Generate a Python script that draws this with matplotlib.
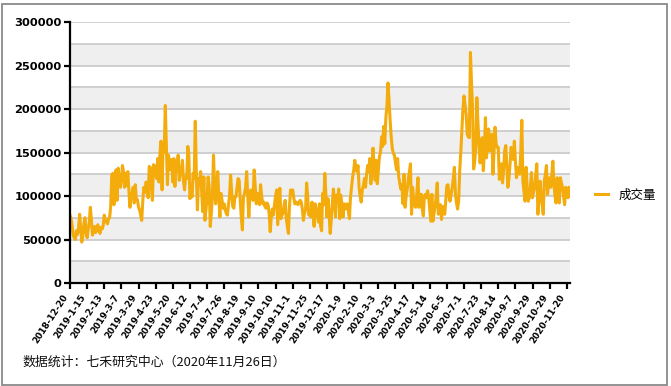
import matplotlib
matplotlib.use("Agg")
import matplotlib.pyplot as plt
from matplotlib.patches import Rectangle

plt.rcParams['font.family'] = ['Noto Sans CJK SC', 'DejaVu Sans']

# Tick labels (every 16 trading days)
tick_labels = ["2018-12-20", "2019-1-15", "2019-2-13", "2019-3-7", "2019-3-29", "2019-4-23",
               "2019-5-20", "2019-6-12", "2019-7-4", "2019-7-26", "2019-8-19", "2019-9-10",
               "2019-10-10", "2019-11-1", "2019-11-25", "2019-12-17", "2020-1-9", "2020-2-10",
               "2020-3-3", "2020-3-25", "2020-4-17", "2020-5-14", "2020-6-5", "2020-7-1",
               "2020-7-23", "2020-8-14", "2020-9-7", "2020-9-29", "2020-10-29", "2020-11-20"]
tick_step = 16

# Daily volume in thousands
volume_k = [
    78, 74, 66, 55, 52, 50, 60, 56, 63, 79, 62, 47, 55, 68, 75, 58,
    52, 62, 70, 87, 72, 55, 60, 65, 58, 63, 67, 60, 57, 64, 62, 66,
    78, 72, 70, 68, 74, 75, 88, 124, 126, 90, 99, 130, 95, 132, 120, 110,
    118, 135, 128, 110, 126, 112, 128, 106, 87, 100, 104, 110, 92, 113, 95, 96,
    87, 84, 78, 72, 95, 110, 104, 116, 112, 98, 134, 133, 110, 95, 136, 135,
    126, 120, 143, 116, 149, 163, 107, 161, 150, 204, 160, 113, 147, 138, 130, 142,
    116, 143, 111, 141, 128, 147, 118, 125, 130, 141, 117, 107, 122, 120, 157, 147,
    97, 105, 99, 126, 120, 186, 126, 84, 120, 112, 128, 105, 82, 122, 72, 85,
    97, 122, 110, 65, 80, 99, 147, 115, 91, 105, 128, 98, 76, 103, 95, 86,
    91, 84, 80, 78, 90, 100, 124, 105, 88, 86, 99, 99, 110, 120, 118, 95,
    75, 61, 99, 103, 110, 128, 100, 76, 99, 107, 102, 95, 130, 110, 91, 103,
    98, 90, 113, 100, 91, 93, 88, 86, 92, 90, 80, 59, 76, 85, 78, 90,
    100, 107, 67, 88, 109, 74, 78, 80, 90, 95, 75, 65, 57, 88, 107, 105,
    107, 98, 91, 93, 92, 90, 93, 95, 93, 85, 72, 80, 84, 115, 100, 78,
    82, 76, 93, 80, 65, 91, 85, 78, 70, 91, 66, 60, 103, 90, 126, 100,
    76, 97, 80, 57, 72, 91, 108, 95, 76, 101, 95, 108, 74, 101, 88, 76,
    91, 85, 90, 91, 82, 74, 99, 110, 122, 130, 141, 133, 128, 135, 110, 100,
    93, 107, 112, 120, 110, 125, 135, 128, 143, 114, 130, 155, 135, 118, 141, 114,
    130, 145, 150, 168, 157, 180, 160, 190, 203, 230, 210, 187, 168, 155, 149, 147,
    138, 130, 143, 122, 115, 108, 113, 91, 125, 87, 100, 108, 120, 128, 137, 79,
    110, 95, 88, 87, 105, 121, 87, 95, 102, 85, 77, 100, 102, 98, 106, 98,
    85, 71, 102, 71, 80, 88, 100, 115, 79, 85, 90, 73, 88, 84, 79, 95,
    112, 113, 100, 94, 102, 110, 120, 133, 102, 92, 85, 94, 129, 150, 175, 200,
    215, 205, 194, 171, 168, 167, 265, 230, 202, 131, 140, 156, 213, 185, 160, 138,
    150, 167, 129, 150, 190, 144, 160, 177, 152, 162, 171, 125, 150, 179, 160, 156,
    156, 119, 128, 137, 115, 130, 152, 158, 135, 110, 120, 137, 156, 148, 142, 163,
    140, 121, 133, 128, 125, 150, 187, 117, 105, 94, 133, 110, 94, 98, 110, 127,
    98, 105, 110, 125, 137, 79, 95, 117, 102, 90, 79, 117, 125, 135, 102, 115,
    121, 110, 125, 140, 113, 100, 92, 121, 105, 92, 121, 115, 110, 100, 90, 110,
    105, 98, 110, 100,
]
volume = [v * 1000 for v in volume_k]
series_name = "成交量"
yticks = [0, 50000, 100000, 150000, 200000, 250000, 300000]
footer = "数据统计：七禾研究中心（2020年11月26日）"

W, H = 671, 386
fig = plt.figure(figsize=(W / 100, H / 100), dpi=100)
fig.patch.set_facecolor('white')
ax = fig.add_axes([70 / W, 1 - 283 / H, 500 / W, 261 / H])
ax.set_facecolor('white')

n = len(volume)
ax.set_xlim(0, n - 1)
ax.set_ylim(0, 300000)

# alternating bands and grid lines every 25000
for i, lo in enumerate(range(0, 300000, 25000)):
    if i % 2 == 0:
        ax.axhspan(lo, lo + 25000, color='#efefef', zorder=0, lw=0)
for lv in range(25000, 300001, 25000):
    ax.axhline(lv, color='#c8c8c8', lw=1.2, zorder=1)

ax.plot(range(n), volume, color='#F4AB0C', lw=2.2, zorder=3, label=series_name,
        solid_joinstyle='round')

for s in ['top', 'right']:
    ax.spines[s].set_visible(False)
for s in ['left', 'bottom']:
    ax.spines[s].set_color('black')
    ax.spines[s].set_linewidth(1.6)
    ax.spines[s].set_zorder(4)

ax.set_yticks(yticks)
ax.set_yticklabels([str(v) for v in yticks], fontfamily='DejaVu Sans',
                   fontweight='bold', fontsize=8.2)
ticks = list(range(0, n, tick_step))[:len(tick_labels)]
ax.set_xticks(ticks)
ax.set_xticklabels(tick_labels, rotation=57, ha='right', va='top',
                   fontfamily='DejaVu Sans', fontweight='bold', fontsize=6.4)
ax.tick_params(axis='both', direction='out', length=4, width=1.6, color='black', pad=2)
ax.tick_params(axis='x', pad=3)

fig.legend(loc='center left', bbox_to_anchor=(584 / W, 1 - 195 / H), frameon=False,
           handlelength=1.0, handletextpad=0.9, prop={'size': 9})

fig.text(22 / W, 1 - 362 / H, footer, fontsize=9.3, va='center', ha='left', color='#111111')

fig.patches.append(Rectangle((1.5 / W, 1.5 / H), (W - 6) / W, (H - 5) / H,
                             transform=fig.transFigure, fill=False,
                             edgecolor='#8a8a8a', lw=1.3))

fig.savefig('out.png', dpi=100)
